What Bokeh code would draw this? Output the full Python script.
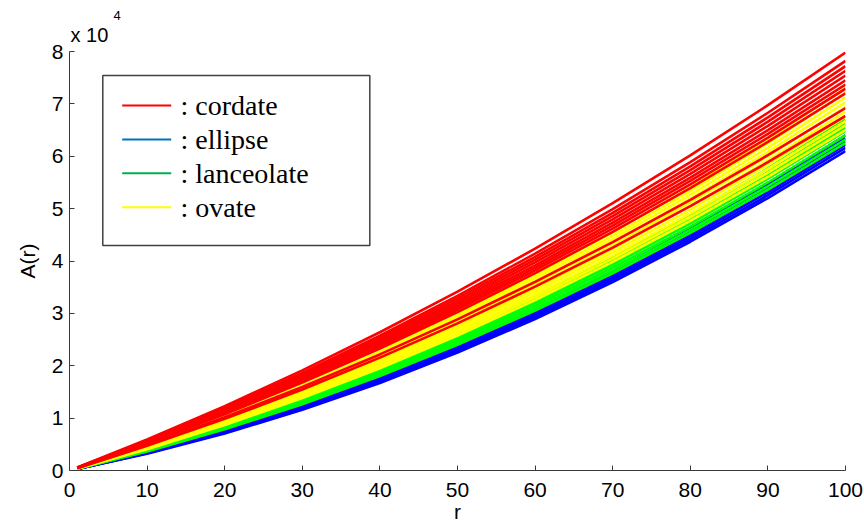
from bokeh.plotting import figure
from bokeh.models import Range1d, FixedTicker, Title
from bokeh.core.properties import value
from bokeh.embed import file_html
from bokeh.resources import INLINE

# ---------------- data ----------------
r_pts = [1, 10, 20, 30, 40, 50, 60, 70, 80, 90, 100]

cordate = [
    [570, 5910, 12280, 19110, 26400, 34150, 42360, 51030, 60160, 69750, 79800],
    [554, 5750, 11960, 18630, 25760, 33350, 41400, 49910, 58880, 68310, 78200],
    [544, 5650, 11760, 18330, 25360, 32850, 40800, 49210, 58080, 67410, 77200],
    [535, 5560, 11580, 18060, 25000, 32400, 40260, 48580, 57360, 66600, 76300],
    [526, 5470, 11400, 17790, 24640, 31950, 39720, 47950, 56640, 65790, 75400],
    [517, 5380, 11220, 17520, 24280, 31500, 39180, 47320, 55920, 64980, 74500],
    [509, 5300, 11060, 17280, 23960, 31100, 38700, 46760, 55280, 64260, 73700],
    [501, 5220, 10900, 17040, 23640, 30700, 38220, 46200, 54640, 63540, 72900],
    [492, 5130, 10720, 16770, 23280, 30250, 37680, 45570, 53920, 62730, 72000],
    [464, 4850, 10160, 15930, 22160, 28850, 36000, 43610, 51680, 60210, 69200],
    [449, 4700, 9860, 15480, 21560, 28100, 35100, 42560, 50480, 58860, 67700],
]

ellipse = [
    [323, 3520, 7680, 12480, 17920, 24000, 30720, 38080, 46080, 54720, 64000],
    [317, 3460, 7560, 12300, 17680, 23700, 30360, 37660, 45600, 54180, 63400],
    [311, 3400, 7440, 12120, 17440, 23400, 30000, 37240, 45120, 53640, 62800],
    [305, 3340, 7320, 11940, 17200, 23100, 29640, 36820, 44640, 53100, 62200],
    [299, 3280, 7200, 11760, 16960, 22800, 29280, 36400, 44160, 52560, 61600],
    [293, 3220, 7080, 11580, 16720, 22500, 28920, 35980, 43680, 52020, 61000],
]

lanceolate = [
    [383, 4090, 8760, 14010, 19840, 26250, 33240, 40810, 48960, 57690, 67000],
    [375, 4010, 8600, 13770, 19520, 25850, 32760, 40250, 48320, 56970, 66200],
    [368, 3940, 8460, 13560, 19240, 25500, 32340, 39760, 47760, 56340, 65500],
    [361, 3870, 8320, 13350, 18960, 25150, 31920, 39270, 47200, 55710, 64800],
    [353, 3790, 8160, 13110, 18640, 24750, 31440, 38710, 46560, 54990, 64000],
    [345, 3710, 8000, 12870, 18320, 24350, 30960, 38150, 45920, 54270, 63200],
    [338, 3640, 7860, 12660, 18040, 24000, 30540, 37660, 45360, 53640, 62500],
]

ovate = [
    [463, 4870, 10280, 16230, 22720, 29750, 37320, 45430, 54080, 63270, 73000],
    [454, 4780, 10100, 15960, 22360, 29300, 36780, 44800, 53360, 62460, 72100],
    [445, 4690, 9920, 15690, 22000, 28850, 36240, 44170, 52640, 61650, 71200],
    [436, 4600, 9740, 15420, 21640, 28400, 35700, 43540, 51920, 60840, 70300],
    [427, 4510, 9560, 15150, 21280, 27950, 35160, 42910, 51200, 60030, 69400],
    [418, 4420, 9380, 14880, 20920, 27500, 34620, 42280, 50480, 59220, 68500],
    [409, 4330, 9200, 14610, 20560, 27050, 34080, 41650, 49760, 58410, 67600],
    [400, 4240, 9020, 14340, 20200, 26600, 33540, 41020, 49040, 57600, 66700],
    [392, 4160, 8860, 14100, 19880, 26200, 33060, 40460, 48400, 56880, 65900],
    [383, 4070, 8680, 13830, 19520, 25750, 32520, 39830, 47680, 56070, 65000],
]

x_ticks = [0, 10, 20, 30, 40, 50, 60, 70, 80, 90, 100]
y_ticks = [0, 10000, 20000, 30000, 40000, 50000, 60000, 70000, 80000]
y_tick_labels = ["0", "1", "2", "3", "4", "5", "6", "7", "8"]
legend_labels = [": cordate", ": ellipse", ": lanceolate", ": ovate"]

# ---------------- figure ----------------
p = figure(width=864, height=530, output_backend="svg", toolbar_location=None,
           x_range=Range1d(0, 100), y_range=Range1d(0, 80000),
           min_border_left=69, min_border_right=19, min_border_top=51,
           min_border_bottom=60)
p.outline_line_color = None
p.grid.visible = False
p.background_fill_color = "white"

axis_color = "#3a3a3a"
for ax in (p.xaxis[0], p.yaxis[0]):
    ax.axis_line_color = axis_color
    ax.axis_line_width = 1
    ax.major_tick_line_color = axis_color
    ax.major_tick_in = 5
    ax.major_tick_out = 0
    ax.minor_tick_line_color = None
    ax.major_label_text_font = "Liberation Sans"
    ax.major_label_text_font_size = "21px"
    ax.major_label_text_color = "black"
    ax.axis_label_text_font = "Liberation Sans"
    ax.axis_label_text_font_size = "21px"
    ax.axis_label_text_font_style = "normal"
    ax.axis_label_text_color = "black"

p.xaxis.ticker = FixedTicker(ticks=x_ticks)
p.xaxis.major_label_standoff = 12
p.xaxis.axis_label = "r"
p.xaxis.axis_label_standoff = 0
p.yaxis.ticker = FixedTicker(ticks=y_ticks)
p.yaxis.major_label_overrides = {t: l for t, l in zip(y_ticks, y_tick_labels)}
p.yaxis.major_label_standoff = 6
p.yaxis.axis_label = "A(r)"
p.yaxis.axis_label_standoff = 10

# ---------------- curves ----------------
draw = [(ellipse, "#0000FF"), (lanceolate, "#00FF00"),
        (ovate, "#FFFF00"), (cordate, "#FF0000")]
for curves, color in draw:
    p.multi_line(xs=[r_pts] * len(curves), ys=curves,
                 line_color=color, line_width=2.6)

# ---------------- legend box ----------------
p.quad(left=[4.29], right=[38.70], top=[75418], bottom=[42959],
       fill_color="white", line_color="#404040", line_width=1.5)
leg_colors = ["#FF0000", "#0072BD", "#00B050", "#FFFF00"]
leg_line_y = [69690, 63198, 56764, 50272]
leg_text_y = [69600, 63110, 56680, 50190]
p.segment(x0=[6.79] * 4, x1=[13.11] * 4, y0=leg_line_y, y1=leg_line_y,
          line_color=leg_colors, line_width=2)
p.text(x=[14.3] * 4, y=leg_text_y, text=legend_labels,
       text_font=value("Liberation Serif"), text_font_size="28px",
       text_baseline="alphabetic", text_align="left", text_color="black")

# ---------------- exponent (x 10^4) above the axis ----------------
p.add_layout(Title(text="x 10", align="left", offset=1, standoff=11,
                   text_font="Liberation Sans", text_font_size="20px",
                   text_font_style="normal", text_color="black"), "above")
p.add_layout(Title(text="4", align="left", offset=44, standoff=-7,
                   text_font="Liberation Sans", text_font_size="13px",
                   text_font_style="normal", text_color="black"), "above")

open("out.html", "w").write(file_html(p, INLINE))
